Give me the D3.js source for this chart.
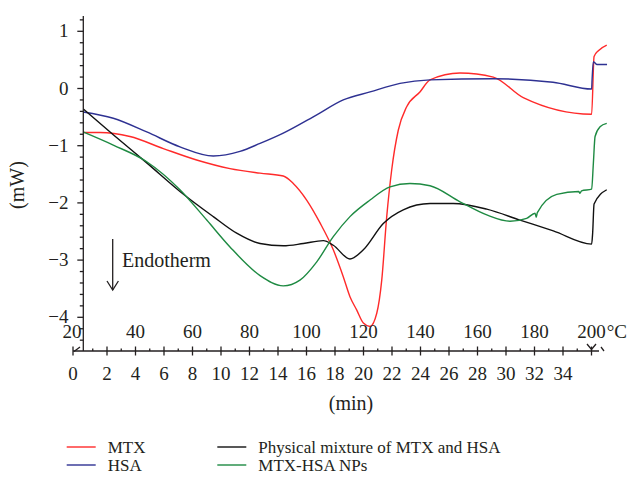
<!DOCTYPE html>
<html>
<head>
<meta charset="utf-8">
<script src="https://cdn.jsdelivr.net/npm/d3@7"></script>
<style>
  body { margin: 0; background: #fff; }
  text { font-family: "Liberation Serif", "Times New Roman", serif; fill: #231f20; }
</style>
</head>
<body>
<svg width="630" height="481"></svg>
<script>
// DSC curves, [time (min), heat flow (mW)]
var mtx = [
  [0.32, -0.77], [1.51, -0.77], [3.61, -0.84], [5.95, -1.05], [8.29, -1.25],
  [10.63, -1.40], [12.74, -1.48], [14.37, -1.53], [15.07, -1.66], [16.01, -1.95],
  [16.95, -2.35], [17.88, -2.82], [18.58, -3.29], [19.05, -3.64], [19.52, -3.87],
  [19.99, -4.10], [20.46, -4.16], [20.93, -3.93], [21.28, -3.35], [21.63, -2.24],
  [21.98, -1.42], [22.44, -0.73], [23.03, -0.32], [23.96, -0.06], [24.67, 0.15],
  [26.77, 0.27], [29.11, 0.20], [31.21, -0.16], [36.01, -0.45], [36.18, 0.56],
  [36.48, 0.66], [37.07, 0.76]
];
var hsa = [
  [0.32, -0.41], [2.44, -0.52], [4.79, -0.76], [7.12, -1.02], [9.46, -1.18],
  [11.33, -1.10], [12.74, -0.96], [14.37, -0.78], [16.72, -0.46], [18.58, -0.20],
  [20.46, -0.06], [22.56, 0.09], [24.67, 0.15], [29.09, 0.17], [33.30, 0.11],
  [36.01, -0.01], [36.04, 0.15], [36.13, 0.47], [36.37, 0.42], [37.09, 0.42]
];
var mixture = [
  [0.34, -0.36], [2.44, -0.81], [4.79, -1.30], [7.12, -1.80], [9.46, -2.24],
  [11.10, -2.53], [12.74, -2.71], [14.37, -2.75], [15.78, -2.71], [17.18, -2.66],
  [17.88, -2.74], [19.05, -2.98], [19.99, -2.82], [21.39, -2.36], [22.79, -2.12],
  [24.67, -2.01], [26.30, -2.01], [28.65, -2.11], [30.98, -2.30], [33.32, -2.49],
  [36.01, -2.72], [36.08, -2.53], [36.18, -2.02], [37.07, -1.77]
];
var nps = [
  [0.32, -0.76], [2.44, -0.99], [4.79, -1.28], [7.12, -1.77], [9.0, -2.30],
  [10.63, -2.77], [12.74, -3.27], [14.37, -3.45], [15.54, -3.35],
  [16.72, -3.03], [17.88, -2.59], [19.05, -2.24], [20.46, -1.95], [21.86, -1.72],
  [23.26, -1.66], [24.67, -1.70], [26.77, -1.98], [28.65, -2.21], [30.28, -2.32],
  [31.45, -2.27], [32.04, -2.18], [32.12, -2.25], [32.2, -2.17], [33.56, -1.85],
  [35.1, -1.80], [35.19, -1.83], [35.3, -1.79], [36.01, -1.76], [36.13, -1.31],
  [36.25, -0.84], [36.6, -0.67], [37.07, -0.61]
];

var minuteTicks = [0, 2, 4, 6, 8, 10, 12, 14, 16, 18, 20, 22, 24, 26, 28, 30, 32, 34];
var tempTicks = [20, 40, 60, 80, 100, 120, 140, 160, 180, 200];
var yTicks = [-4, -3, -2, -1, 0, 1];

var seriesNames = ["MTX", "HSA", "Physical mixture of MTX and HSA", "MTX-HSA NPs"];
var seriesColors = ["#ff2a2a", "#2e3192", "#111111", "#1e8a42"];
var seriesData = [mtx, hsa, mixture, nps];

var svg = d3.select("svg");

var x = d3.scaleLinear().domain([2, 34]).range([107, 563]);
var y = d3.scaleLinear().domain([-4, 1]).range([317.3, 31.3]);

var axisLeftX = 83.3, axisBottomY = 351;
var xStart = 73, xEnd = 599;

// heating rate 5 C/min from 20 C
function tempToMin(T) { return (T - 20) / 5; }
function tickX(t) { return t === 0 ? xStart : x(t); }

// curves
var line = d3.line()
    .x(function(d) { return x(d[0]); })
    .y(function(d) { return y(d[1]); })
    .curve(d3.curveMonotoneX);

svg.append("g")
    .selectAll("path")
    .data(seriesData)
    .enter()
    .append("path")
    .attr("d", line)
    .attr("fill", "none")
    .attr("stroke", function(d, i) { return seriesColors[i]; })
    .attr("stroke-width", 1.4);

// y axis
var ax = svg.append("g").attr("stroke", "#231f20").attr("stroke-width", 1.3);
ax.append("line")
    .attr("x1", axisLeftX).attr("x2", axisLeftX)
    .attr("y1", 16).attr("y2", axisBottomY);

var yMinor = d3.range(-22, 7).map(function(k) { return k / 5; })
    .filter(function(v) { return Math.abs(v - Math.round(v)) > 1e-6; });
ax.selectAll(".ymin")
    .data(yMinor)
    .enter()
    .append("line")
    .attr("x1", axisLeftX - 3.5).attr("x2", axisLeftX)
    .attr("y1", function(d) { return y(d); })
    .attr("y2", function(d) { return y(d); });
ax.selectAll(".ymaj")
    .data(yTicks)
    .enter()
    .append("line")
    .attr("x1", axisLeftX - 6).attr("x2", axisLeftX)
    .attr("y1", function(d) { return y(d); })
    .attr("y2", function(d) { return y(d); });

svg.selectAll(".ylab")
    .data(yTicks)
    .enter()
    .append("text")
    .attr("x", 68.5)
    .attr("y", function(d) { return y(d) + 6; })
    .attr("text-anchor", "end")
    .attr("font-size", 19)
    .text(function(d) { return d < 0 ? "\u2212" + Math.abs(d) : d; });

// x axis
ax.append("line")
    .attr("x1", xStart).attr("x2", xEnd)
    .attr("y1", axisBottomY).attr("y2", axisBottomY);

var xMinor = d3.range(1, 36, 2);
ax.selectAll(".xmin")
    .data(xMinor)
    .enter()
    .append("line")
    .attr("x1", function(d) { return x(d); })
    .attr("x2", function(d) { return x(d); })
    .attr("y1", axisBottomY - 2.5).attr("y2", axisBottomY);
ax.selectAll(".xmaj")
    .data(minuteTicks.concat([36]))
    .enter()
    .append("line")
    .attr("x1", function(d) { return tickX(d); })
    .attr("x2", function(d) { return tickX(d); })
    .attr("y1", axisBottomY - 4.5).attr("y2", axisBottomY + 4.5);

// break marks at both ends
ax.append("path")
    .attr("fill", "none")
    .attr("d", "M" + (xStart + 1) + "," + (axisBottomY + 0.5) + "L" + (xStart + 7) + "," + (axisBottomY - 4));
ax.append("path")
    .attr("fill", "none")
    .attr("d", "M" + (x(36) - 4.5) + "," + (axisBottomY - 7) + "L" + x(36) + "," + (axisBottomY - 1.5) +
               "L" + (x(36) + 4.5) + "," + (axisBottomY - 7));
ax.append("path")
    .attr("fill", "none")
    .attr("d", "M" + (xEnd + 2) + "," + (axisBottomY - 4) + "L" + (xEnd + 5) + "," + (axisBottomY));

svg.selectAll(".xlab")
    .data(minuteTicks)
    .enter()
    .append("text")
    .attr("x", function(d) { return tickX(d); })
    .attr("y", 380)
    .attr("text-anchor", "middle")
    .attr("font-size", 19)
    .text(function(d) { return d; });

var tlab = svg.selectAll(".tlab")
    .data(tempTicks)
    .enter()
    .append("text")
    .attr("x", function(d) { return tickX(tempToMin(d)) - (d === 20 ? 1 : 0); })
    .attr("y", 337.5)
    .attr("text-anchor", "middle")
    .attr("font-size", 19)
    .text(function(d) { return d; });
var w200 = tlab.filter(function(d) { return d === 200; }).node().getComputedTextLength();
svg.append("text")
    .attr("x", x(tempToMin(200)) + w200 / 2 + 1)
    .attr("y", 337.5)
    .attr("font-size", 19)
    .text("\u00b0C");

// axis titles
svg.append("text")
    .attr("x", 351)
    .attr("y", 410)
    .attr("text-anchor", "middle")
    .attr("font-size", 20)
    .text("(min)");
svg.append("text")
    .attr("transform", "translate(24,185) rotate(-90)")
    .attr("text-anchor", "middle")
    .attr("font-size", 20)
    .text("(mW)");

// endotherm arrow
var arr = svg.append("g").attr("stroke", "#231f20").attr("stroke-width", 1.3).attr("fill", "none");
arr.append("line").attr("x1", 112.7).attr("x2", 112.7).attr("y1", 239).attr("y2", 290);
arr.append("path").attr("d", "M107,281L112.7,290L118.4,281");
svg.append("text")
    .attr("x", 122)
    .attr("y", 267)
    .attr("font-size", 20)
    .text("Endotherm");

// legend
var legendPos = [[66.7, 447], [66.7, 465], [217.3, 447], [217.3, 465]];
var lg = svg.append("g")
    .selectAll("g")
    .data(seriesNames)
    .enter()
    .append("g")
    .attr("transform", function(d, i) { return "translate(" + legendPos[i][0] + "," + legendPos[i][1] + ")"; });
lg.append("line")
    .attr("x1", 0).attr("x2", 29)
    .attr("stroke", function(d, i) { return seriesColors[i]; })
    .attr("stroke-width", 1.4);
lg.append("text")
    .attr("x", 41)
    .attr("y", 6)
    .attr("font-size", 17)
    .text(function(d) { return d; });
</script>
</body>
</html>
